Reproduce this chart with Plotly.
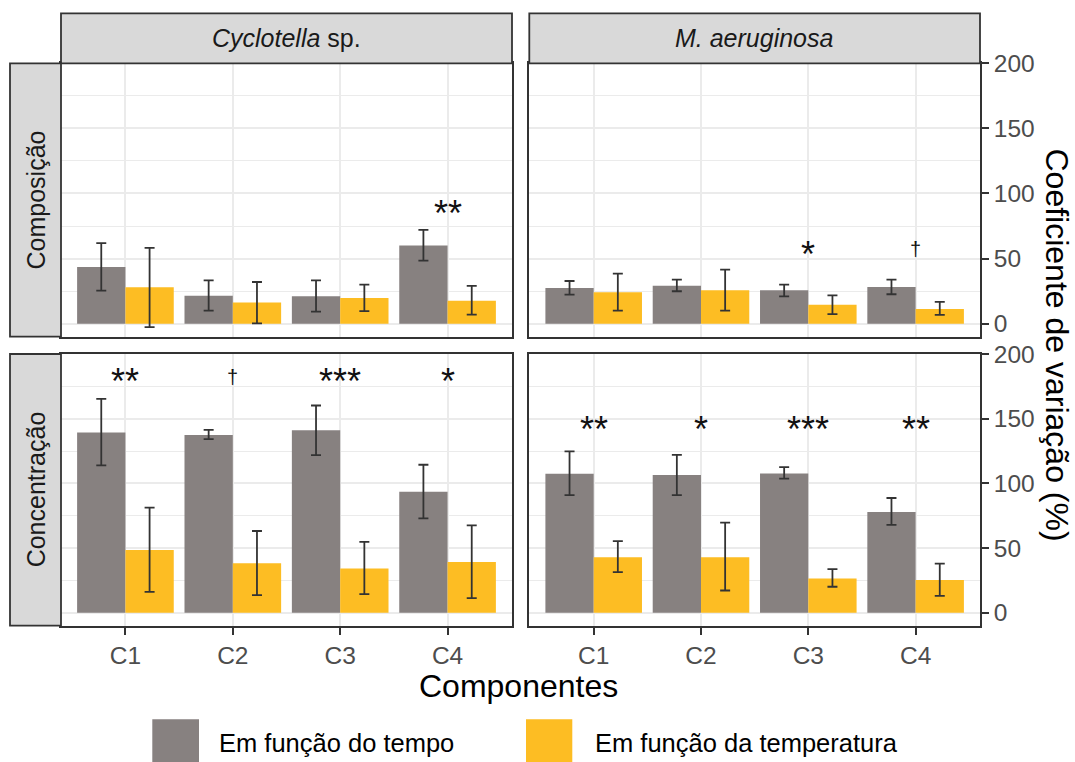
import plotly.graph_objects as go

W, H = 1075, 762

# ---------------- data ----------------
componentes = ["C1", "C2", "C3", "C4"]
especies = ["<i>Cyclotella</i> sp.", "<i>M. aeruginosa</i>"]
variaveis = ["Composição", "Concentração"]
series_nomes = ["Em função do tempo", "Em função da temperatura"]

# Composição - Cyclotella sp.
comp_cyc_tempo = [43.6, 21.5, 21.0, 60.0]
comp_cyc_tempo_inf = [25.4, 10.0, 9.2, 48.5]
comp_cyc_tempo_sup = [61.8, 33.3, 33.3, 72.0]
comp_cyc_temp = [27.9, 16.2, 19.7, 17.7]
comp_cyc_temp_inf = [-2.6, 0.3, 9.7, 6.9]
comp_cyc_temp_sup = [58.2, 32.0, 30.0, 29.0]
comp_cyc_sig = ["", "", "", "**"]
comp_cyc_sig_y = 86

# Composição - M. aeruginosa
comp_mae_tempo = [27.4, 29.2, 25.6, 28.2]
comp_mae_tempo_inf = [22.3, 24.9, 21.0, 22.6]
comp_mae_tempo_sup = [32.8, 33.8, 30.0, 33.8]
comp_mae_temp = [24.1, 25.6, 14.6, 11.3]
comp_mae_temp_inf = [10.0, 10.0, 7.4, 6.7]
comp_mae_temp_sup = [38.5, 41.5, 21.8, 16.7]
comp_mae_sig = ["", "", "*", "†"]
comp_mae_sig_y = 55

# Concentração - Cyclotella sp.
conc_cyc_tempo = [139.3, 137.3, 141.1, 93.6]
conc_cyc_tempo_inf = [113.9, 134.2, 121.9, 73.0]
conc_cyc_tempo_sup = [165.3, 141.4, 160.2, 114.4]
conc_cyc_temp = [48.6, 38.3, 34.2, 39.3]
conc_cyc_temp_inf = [16.2, 13.6, 14.4, 11.3]
conc_cyc_temp_sup = [81.2, 63.2, 54.8, 67.6]
conc_cyc_sig = ["**", "†", "***", "*"]
conc_cyc_sig_y = 180

# Concentração - M. aeruginosa
conc_mae_tempo = [107.5, 106.4, 107.7, 77.9]
conc_mae_tempo_inf = [91.0, 91.0, 103.6, 67.9]
conc_mae_tempo_sup = [124.7, 122.1, 112.6, 88.7]
conc_mae_temp = [42.9, 42.9, 26.5, 25.4]
conc_mae_temp_inf = [31.4, 17.2, 20.1, 13.1]
conc_mae_temp_sup = [55.3, 69.7, 33.7, 38.0]
conc_mae_sig = ["**", "*", "***", "**"]
conc_mae_sig_y = 143

y_ticks = [0, 50, 100, 150, 200]

# ---------------- styles ----------------
FONT = "Liberation Sans, Arial, Helvetica, sans-serif"
COR_TEMPO = "#878180"
COR_TEMP = "#FDBD23"
BORDA = "#333333"
GRADE = "#EBEBEB"
STRIP = "#D9D9D9"

# panel pixel geometry
col_x = [(61, 512), (529.3, 980)]
row_y = [(63.3, 336.7), (354, 625.7)]


def px(x):
    return x / W


def py(y):
    return 1 - y / H


paineis = [
    (0, 0, comp_cyc_tempo, comp_cyc_tempo_inf, comp_cyc_tempo_sup,
     comp_cyc_temp, comp_cyc_temp_inf, comp_cyc_temp_sup, comp_cyc_sig, comp_cyc_sig_y),
    (0, 1, comp_mae_tempo, comp_mae_tempo_inf, comp_mae_tempo_sup,
     comp_mae_temp, comp_mae_temp_inf, comp_mae_temp_sup, comp_mae_sig, comp_mae_sig_y),
    (1, 0, conc_cyc_tempo, conc_cyc_tempo_inf, conc_cyc_tempo_sup,
     conc_cyc_temp, conc_cyc_temp_inf, conc_cyc_temp_sup, conc_cyc_sig, conc_cyc_sig_y),
    (1, 1, conc_mae_tempo, conc_mae_tempo_inf, conc_mae_tempo_sup,
     conc_mae_temp, conc_mae_temp_inf, conc_mae_temp_sup, conc_mae_sig, conc_mae_sig_y),
]

fig = go.Figure()
layout = dict(
    template="none",
    width=W, height=H,
    margin=dict(l=0, r=0, t=0, b=0, pad=0, autoexpand=False),
    paper_bgcolor="white", plot_bgcolor="white",
    barmode="group", bargap=0.1, bargroupgap=0,
    showlegend=False,
    font=dict(family=FONT, color="#1A1A1A"),
)
annotations = []
shapes = []

for i, (r, c, t, ti, ts, te, tei, tes, sig, sig_y) in enumerate(paineis):
    k = i + 1
    xn = "x" if k == 1 else f"x{k}"
    yn = "y" if k == 1 else f"y{k}"
    for nome, vals, lo, hi, cor, og in [
        (series_nomes[0], t, ti, ts, COR_TEMPO, "a"),
        (series_nomes[1], te, tei, tes, COR_TEMP, "b"),
    ]:
        fig.add_trace(go.Bar(
            x=componentes, y=vals, name=nome, offsetgroup=og,
            marker=dict(color=cor, line=dict(width=0)),
            error_y=dict(type="data", symmetric=False,
                         array=[h - v for h, v in zip(hi, vals)],
                         arrayminus=[v - l for v, l in zip(vals, lo)],
                         color=BORDA, thickness=1.8, width=5),
            xaxis=xn, yaxis=yn, showlegend=False,
        ))
    x0, x1 = col_x[c]
    y0, y1 = row_y[r]
    bottom = r == 1
    right = c == 1
    layout["xaxis" if k == 1 else f"xaxis{k}"] = dict(
        domain=[px(x0), px(x1)], anchor=yn, type="category",
        categoryorder="array", categoryarray=componentes,
        range=[-0.6, 3.6], showgrid=True, gridcolor=GRADE, gridwidth=2,
        showline=True, mirror=True, linecolor=BORDA, linewidth=1.8,
        ticks="outside" if bottom else "", ticklen=7, tickwidth=1.8, tickcolor=BORDA,
        showticklabels=bottom, automargin=False,
        tickfont=dict(family=FONT, size=24.5, color="#4D4D4D"),
        zeroline=False, fixedrange=True,
    )
    layout["yaxis" if k == 1 else f"yaxis{k}"] = dict(
        domain=[py(y1), py(y0)], anchor=xn, range=[-10, 200],
        tickmode="array", tickvals=y_ticks,
        side="right" if right else "left",
        showgrid=True, gridcolor=GRADE, gridwidth=2,
        minor=dict(tickvals=[25, 75, 125, 175], showgrid=True,
                   gridcolor=GRADE, gridwidth=1.1, ticks=""),
        showline=True, mirror=True, linecolor=BORDA, linewidth=1.8,
        ticks="outside" if right else "", ticklen=7, tickwidth=1.8, tickcolor=BORDA,
        showticklabels=right, automargin=False,
        tickfont=dict(family=FONT, size=24.5, color="#4D4D4D"),
        zeroline=False, fixedrange=True,
    )
    for cat, s in zip(componentes, sig):
        if not s:
            continue
        dag = s == "†"
        annotations.append(dict(
            x=cat, y=sig_y, xref=xn, yref=yn, text=s, showarrow=False,
            xanchor="center", yanchor="middle",
            yshift=3 if dag else -2,
            font=dict(family=FONT, size=20 if dag else 36, color="#111111"),
        ))

# strips (column)
for c, nome in enumerate(especies):
    x0, x1 = col_x[c]
    shapes.append(dict(type="rect", xref="paper", yref="paper",
                       x0=px(x0), x1=px(x1), y0=py(63.3), y1=py(13.3),
                       fillcolor=STRIP, line=dict(color=BORDA, width=1.8), layer="above"))
    annotations.append(dict(x=px((x0 + x1) / 2), y=py(38.3), xref="paper", yref="paper",
                            text=nome, showarrow=False, xanchor="center", yanchor="middle",
                            font=dict(family=FONT, size=25, color="#1A1A1A")))
# strips (row)
for r, nome in enumerate(variaveis):
    y0, y1 = row_y[r]
    shapes.append(dict(type="rect", xref="paper", yref="paper",
                       x0=px(10), x1=px(61), y0=py(y1), y1=py(y0),
                       fillcolor=STRIP, line=dict(color=BORDA, width=1.8), layer="above"))
    annotations.append(dict(x=px(35.5), y=py((y0 + y1) / 2), xref="paper", yref="paper",
                            text=nome, showarrow=False, textangle=-90,
                            xanchor="center", yanchor="middle",
                            font=dict(family=FONT, size=25, color="#1A1A1A")))

# axis titles
annotations.append(dict(x=px(518), y=py(686), xref="paper", yref="paper",
                        text="Componentes", showarrow=False, xanchor="center", yanchor="middle",
                        font=dict(family=FONT, size=32, color="black")))
annotations.append(dict(x=px(1057), y=py(344.5), xref="paper", yref="paper",
                        text="Coeficiente de variação (%)", showarrow=False, textangle=90,
                        xanchor="center", yanchor="middle",
                        font=dict(family=FONT, size=32, color="black")))

# legend (keys + labels)
for (kx0, kx1, tx), nome, cor in zip([(152.3, 199, 217.3), (526, 572.3, 592.7)],
                                     series_nomes, [COR_TEMPO, COR_TEMP]):
    shapes.append(dict(type="rect", xref="paper", yref="paper",
                       x0=px(kx0), x1=px(kx1), y0=py(766), y1=py(719.3),
                       fillcolor=cor, line=dict(width=0)))
    annotations.append(dict(x=px(tx), y=py(742.5), xref="paper", yref="paper",
                            text=nome, showarrow=False, xanchor="left", yanchor="middle",
                            font=dict(family=FONT, size=25.5, color="black")))

layout["annotations"] = annotations
layout["shapes"] = shapes
fig.update_layout(**layout)
fig.write_html("out.html")
